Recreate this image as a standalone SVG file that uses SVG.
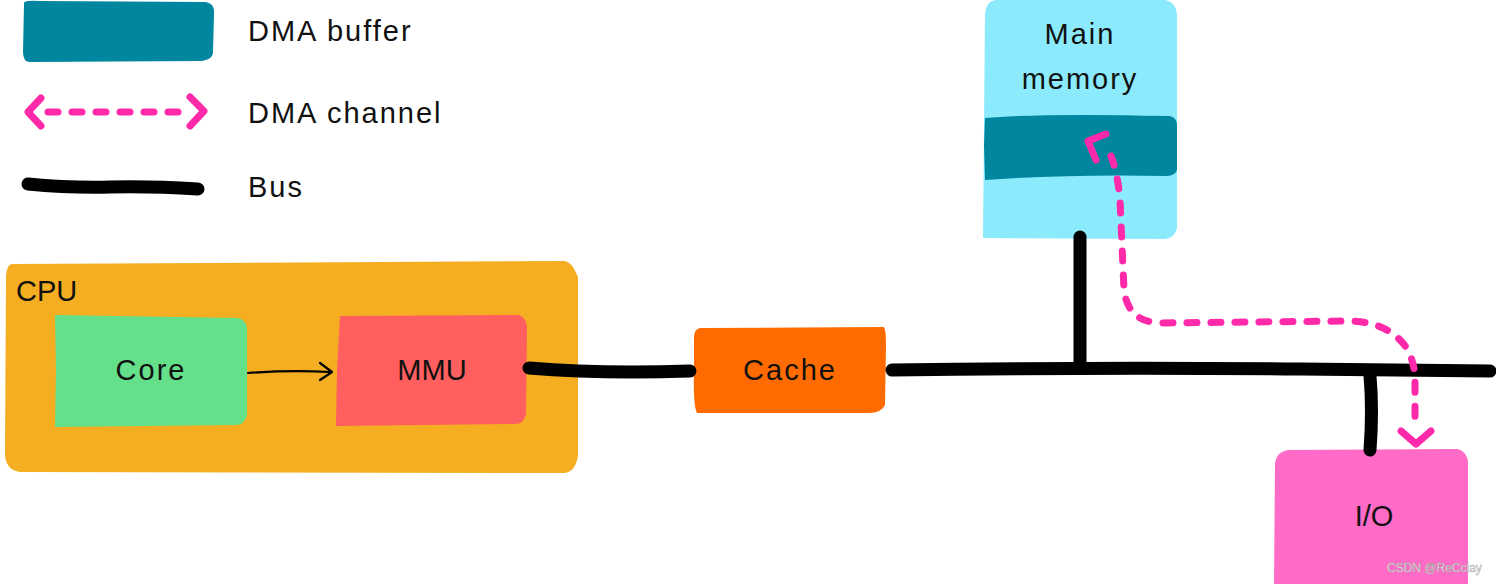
<svg xmlns="http://www.w3.org/2000/svg" width="1496" height="584" viewBox="0 0 1496 584">
<style>
.t{font-family:"Liberation Sans","DejaVu Sans",sans-serif;font-size:29px;fill:#111;letter-spacing:2px}
.c{text-anchor:middle}
.bus{stroke:#000;stroke-width:13;stroke-linecap:round;fill:none}
.dma{stroke:#FF2AAA;stroke-width:7;stroke-linecap:round;stroke-linejoin:round;fill:none}
.dash{stroke-dasharray:10 14}
</style>
<rect width="1496" height="584" fill="#fff"/>
<g id="legend">
  <path d="M24 4 Q22 0 40 1 L205 2 Q215 3 214 14 L213 52 Q213 60 200 61 L30 62 Q23 62 23 52 Z" fill="#00879F"/>
  <text class="t" x="248" y="41">DMA buffer</text>
  <path class="dma dash" d="M48 112 L184 112"/>
  <path class="dma" d="M41 98 L28 112 L41 126 M190 97 L204 111 L190 126"/>
  <text class="t" x="248" y="123">DMA channel</text>
  <path class="bus" d="M28 184 Q70 188 110 187 Q150 186 198 189"/>
  <text class="t" x="248" y="197">Bus</text>
</g>
<g id="cpu">
  <path d="M12 264 L565 261 Q572 262 578 277 L578 455 Q576 471 565 473 L20 472 Q6 470 5 455 L6 276 Q7 264 12 264 Z" fill="#F5AE22"/>
  <text class="t" x="16" y="301" style="letter-spacing:0">CPU</text>
</g>
<g id="core">
  <path d="M55 315 L238 318 Q247 320 247 330 L247 415 Q245 425 235 425 L55 427 L56 370 Z" fill="#64E08A"/>
  <text class="t c" x="151" y="380">Core</text>
</g>
<g id="mmu">
  <path d="M340 316 L518 315 Q527 317 527 328 L526 414 Q524 424 515 424 L336 426 L337 370 Z" fill="#FF5F5F"/>
  <text class="t c" x="432" y="380" style="letter-spacing:0">MMU</text>
</g>
<g id="cache">
  <path d="M700 328 L884 327 Q886 330 886 345 L885 405 Q882 412 870 413 L697 413 Q693 405 694 370 L694 338 Q694 329 700 328 Z" fill="#FF6B00"/>
  <text class="t c" x="790" y="380">Cache</text>
</g>
<g id="main-memory">
  <path d="M996 0 L1165 0 Q1176 2 1177 15 L1177 228 Q1175 238 1165 239 L983 238 L985 15 Q986 1 996 0 Z" fill="#8BEBFC"/>
  <path d="M985 118 Q1040 113 1170 116 Q1177 118 1177 125 L1177 170 Q1175 176 1165 176 Q1070 174 985 180 L984 145 Z" fill="#00879F"/>
  <text class="t c" x="1080" y="44">Main</text>
  <text class="t c" x="1080" y="89">memory</text>
</g>
<g id="io">
  <path d="M1288 450 L1458 449 Q1468 452 1468 464 L1468 584 L1274 584 L1275 464 Q1276 452 1288 450 Z" fill="#FF6BC6"/>
  <text class="t c" x="1374" y="526" style="letter-spacing:0">I/O</text>
</g>
<g id="connectors">
  <path d="M248 373 Q290 370 330 372" stroke="#000" stroke-width="2.2" fill="none" stroke-linecap="round"/>
  <path d="M320 363 L332 372 L320 380" stroke="#000" stroke-width="2.2" fill="none" stroke-linecap="round" stroke-linejoin="round"/>
  <path class="bus" d="M529 368 Q600 374 690 371"/>
  <path class="bus" d="M892 370 Q1100 367 1300 369 Q1400 370 1490 371"/>
  <path class="bus" d="M1080 237 L1080 368"/>
  <path class="bus" d="M1370 376 Q1373 410 1370 450"/>
  <path class="dma dash" d="M1111 156 Q1118 175 1120 200 L1124 290 Q1128 322 1160 323 L1350 321 Q1390 322 1408 350 Q1415 365 1415 380 L1415 425"/>
  <path class="dma" d="M1106 134 L1088 141 L1096 160 M1401 431 L1416 444 L1431 431"/>
</g>
<text x="1387" y="572" font-family="Liberation Sans, sans-serif" font-size="12" fill="#eee" stroke="#999" stroke-width="0.4">CSDN @ReCclay</text>
</svg>
